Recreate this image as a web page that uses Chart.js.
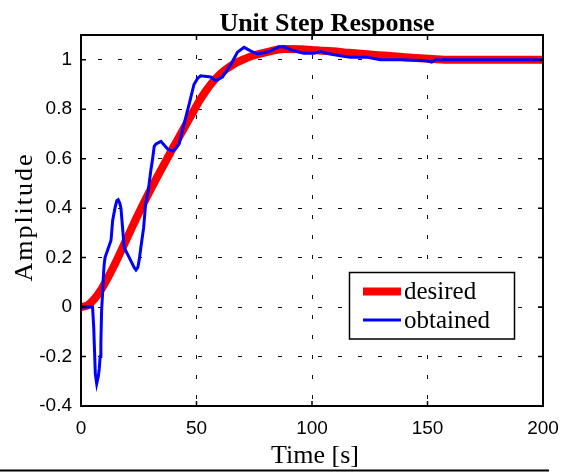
<!DOCTYPE html>
<html lang="en">
<head>
  <meta charset="UTF-8">
  <title>Unit Step Response</title>
  <script src="https://cdn.jsdelivr.net/npm/chart.js"></script>
  <style>
    body {
      margin: 0;
      background: #ffffff;
    }
    canvas {
      display: block;
    }
  </style>
</head>
<body>
  <canvas id="chart" width="570" height="472"></canvas>

  <script>
    // values
    const tDesired = [0, 3, 6, 9, 12, 15, 18, 21, 24, 27, 30, 33, 36, 39, 42, 45, 48, 51, 54, 57,
      60, 63, 66, 70, 75, 80, 88, 95, 102, 109, 116, 124, 131, 138, 145, 152, 160, 200];
    const desired = [0, 0.008, 0.035, 0.075, 0.125, 0.18, 0.24, 0.3, 0.36, 0.418, 0.473, 0.526, 0.578, 0.63, 0.68, 0.73, 0.78, 0.83, 0.873, 0.91,
      0.94, 0.963, 0.982, 1.0, 1.018, 1.03, 1.043, 1.042, 1.038, 1.034, 1.028, 1.022, 1.017, 1.012, 1.007, 1.003, 1.0, 1.0];

    const tObtained = [0, 5, 5.5, 6.2, 6.8, 7.5, 7.9, 8.3, 8.6, 8.9, 9.3, 9.6, 10.0, 10.4, 11.5, 13, 13.7, 14.7, 15.5, 16.1,
      16.8, 17.3, 18, 18.7, 20.9, 23, 23.8, 24.6, 25.2, 25.9, 27.1, 28, 29.1, 30.2, 31, 31.7, 32.5, 34.6, 37.4, 39.6,
      41, 42.5, 44.6, 46.8, 48.9, 50.5, 51.8, 56.2, 58.3, 61.2, 64.8, 67.7, 70.6, 73.4, 76.3, 80.6, 85.7, 87.8, 92.1, 96.4,
      100.8, 103.7, 106.6, 112.3, 116.6, 124, 129.6, 138, 145, 149.7, 151.8, 153.5, 200];
    const obtained = [0, 0, -0.08, -0.27, -0.31, -0.28, -0.25, -0.2, -0.15, -0.02, 0.05, 0.11, 0.17, 0.2, 0.23, 0.27, 0.35, 0.4, 0.43, 0.434,
      0.42, 0.4, 0.32, 0.24, 0.2, 0.16, 0.15, 0.16, 0.19, 0.24, 0.32, 0.42, 0.47, 0.55, 0.6, 0.65, 0.66, 0.67, 0.64, 0.63,
      0.64, 0.66, 0.74, 0.82, 0.9, 0.925, 0.935, 0.93, 0.915, 0.93, 0.98, 1.03, 1.05, 1.036, 1.023, 1.03, 1.052, 1.052, 1.036, 1.026,
      1.026, 1.033, 1.025, 1.016, 1.01, 1.01, 1.0, 1.0, 0.998, 0.996, 0.99, 1.0, 1.0];

    const xTicks = [0, 50, 100, 150, 200];
    const yTicks = [-0.4, -0.2, 0, 0.2, 0.4, 0.6, 0.8, 1];

    const titleText = 'Unit Step Response';
    const xTitle = 'Time [s]';
    const yTitle = 'Amplitude';

    const toPoints = (xs, ys) => xs.map((x, i) => ({ x: x, y: ys[i] }));

    // box, inward ticks, titles and legend, MATLAB style
    const matlabFrame = {
      id: 'matlabFrame',
      afterDatasetsDraw(chart) {
        const ctx = chart.ctx;
        const a = chart.chartArea;
        const xs = chart.scales.x;
        const ys = chart.scales.y;
        ctx.save();

        ctx.strokeStyle = '#000';
        ctx.lineWidth = 1.5;
        ctx.beginPath();
        xTicks.forEach(v => {
          const px = xs.getPixelForValue(v);
          ctx.moveTo(px, a.bottom); ctx.lineTo(px, a.bottom - 5);
          ctx.moveTo(px, a.top); ctx.lineTo(px, a.top + 5);
        });
        yTicks.forEach(v => {
          const py = ys.getPixelForValue(v);
          ctx.moveTo(a.left, py); ctx.lineTo(a.left + 5, py);
          ctx.moveTo(a.right, py); ctx.lineTo(a.right - 5, py);
        });
        ctx.stroke();

        ctx.lineWidth = 2;
        ctx.strokeRect(a.left, a.top, a.right - a.left, a.bottom - a.top);

        // legend
        const lx = 349.5, ly = 272.5, lw = 165, lh = 66.5;
        ctx.fillStyle = '#fff';
        ctx.fillRect(lx, ly, lw, lh);
        ctx.lineWidth = 1.5;
        ctx.strokeRect(lx, ly, lw, lh);
        ctx.font = '25px "Liberation Serif", "Times New Roman", serif';
        ctx.textBaseline = 'alphabetic';
        ctx.textAlign = 'left';
        const rows = [299, 328];
        const lineYs = [291.5, 320];
        chart.data.datasets.forEach((ds, i) => {
          ctx.strokeStyle = ds.borderColor;
          ctx.lineWidth = ds.borderWidth;
          ctx.beginPath();
          ctx.moveTo(363, lineYs[i]);
          ctx.lineTo(401, lineYs[i]);
          ctx.stroke();
          ctx.fillStyle = '#000';
          ctx.fillText(ds.label, 404, rows[i]);
        });

        // titles
        ctx.fillStyle = '#000';
        ctx.textAlign = 'center';
        ctx.font = 'bold 26px "Liberation Serif", "Times New Roman", serif';
        ctx.fillText(titleText, 327, 31);
        ctx.font = '26px "Liberation Serif", "Times New Roman", serif';
        ctx.fillText(xTitle, 315, 463);

        ctx.save();
        ctx.translate(32, 217);
        ctx.rotate(-Math.PI / 2);
        ctx.font = '26px "Liberation Serif", "Times New Roman", serif';
        ctx.letterSpacing = '2px';
        ctx.fillText(yTitle, 0, 0);
        ctx.restore();

        // bottom edge line of the figure
        ctx.fillStyle = '#000';
        ctx.fillRect(0, 469.5, 549, 2);

        ctx.restore();
      }
    };

    const chart = new Chart(document.getElementById('chart'), {
      type: 'line',
      data: {
        datasets: [{
          label: 'desired',
          data: toPoints(tDesired, desired),
          borderColor: '#ff0000',
          borderWidth: 8,
          cubicInterpolationMode: 'monotone',
          pointRadius: 0,
          fill: false,
          order: 2
        }, {
          label: 'obtained',
          data: toPoints(tObtained, obtained),
          borderColor: '#0000ff',
          borderWidth: 3,
          tension: 0,
          pointRadius: 0,
          fill: false,
          order: 1
        }]
      },
      options: {
        responsive: false,
        animation: false,
        layout: {
          padding: { top: 35, right: 27, left: 0, bottom: 0 }
        },
        scales: {
          x: {
            type: 'linear',
            min: 0,
            max: 200,
            afterFit: s => { s.height = 66; },
            afterBuildTicks: s => { s.ticks = xTicks.map(v => ({ value: v })); },
            grid: { color: '#111', lineWidth: 1, drawTicks: false },
            border: { display: false, dash: [4, 16], dashOffset: 0 },
            ticks: {
              color: '#000',
              padding: 11,
              maxRotation: 0,
              font: { family: '"Liberation Sans", Arial, sans-serif', size: 19 },
              callback: v => String(v)
            }
          },
          y: {
            type: 'linear',
            min: -0.4,
            max: 1.1,
            afterFit: s => { s.width = 81; },
            afterBuildTicks: s => { s.ticks = yTicks.map(v => ({ value: v })); },
            grid: { color: '#111', lineWidth: 1, drawTicks: false },
            border: { display: false, dash: [4, 16], dashOffset: 3 },
            ticks: {
              color: '#000',
              padding: 9,
              font: { family: '"Liberation Sans", Arial, sans-serif', size: 19 },
              callback: v => String(v)
            }
          }
        },
        plugins: {
          legend: { display: false },
          title: { display: false },
          tooltip: { enabled: false }
        }
      },
      plugins: [matlabFrame]
    });
  </script>
</body>
</html>
